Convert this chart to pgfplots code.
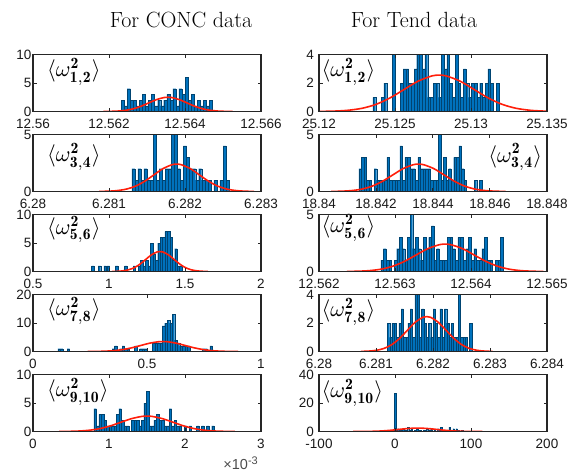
\documentclass[border=0pt]{standalone}
\usepackage{pgfplots}
\pgfplotsset{compat=1.18}
\usepackage{fontspec}
\newfontfamily\tickfam{Liberation Sans}
\definecolor{mlblue}{RGB}{0,114,189}
\definecolor{mlgray}{RGB}{38,38,38}
\definecolor{mlred}{RGB}{255,30,10}
\newcommand\tickfont{\tickfam\fontsize{13.5bp}{16bp}\selectfont}
\newcommand\lab[1]{$\langle\omega^{\mathbf{2}}_{\mathbf{#1}}\rangle$}
\tikzset{wl/.style={inner sep=0pt, scale=2.25, transform shape}}
\pgfplotsset{
  mlax/.style={scale only axis, width=228bp, height=57bp, anchor=south west,
    axis on top, ymin=0, clip=true, clip mode=individual,
    axis line style={draw=mlgray, line width=1.7bp},
    tick style={draw=mlgray, line width=1bp},
    major tick length=3.5bp, tick align=inside,
    ticklabel style={font=\tickfont, text=black!90},
    xticklabel style={inner sep=0pt, anchor=north, yshift=-7.5bp},
    /pgf/number format/assume math mode=true},
  lcol/.style={mlax, yticklabel style={inner sep=0pt, anchor=east, xshift=-1.5bp}},
  rcol/.style={mlax, yticklabel style={inner sep=0pt, anchor=east, xshift=-5bp}},
  hist/.style={ybar, bar shift=0pt, bar width=#1, fill=mlblue, draw=mlblue!60!black, line width=0.25bp},
  fit/.style={mlred, line width=1.6bp, smooth, mark=none},
}
\begin{document}
\begin{tikzpicture}
\useasboundingbox (0,0) rectangle (569bp,-473bp);
\node[anchor=base, font=\fontsize{22bp}{26bp}\selectfont] at (181bp,-27bp) {For CONC data};
\node[anchor=base, font=\fontsize{22bp}{26bp}\selectfont] at (414bp,-27bp) {For Tend data};

% ---------- Left column ----------
\begin{axis}[lcol, at={(33bp,-111.5bp)}, xmin=0, xmax=6, ymax=10,
  xtick={0,2,4,6}, xticklabels={12.56,12.562,12.564,12.566}, ytick={0,5,10}]
\addplot[hist=0.08] coordinates {(2.36,2) (2.44,1) (2.52,4) (2.60,2) (2.68,2) (2.76,1) (2.84,2) (2.92,3) (3.00,1) (3.08,2) (3.16,3) (3.24,1) (3.32,2) (3.40,1) (3.48,2) (3.56,3) (3.64,2) (3.72,4) (3.80,1) (3.88,4) (3.96,3) (4.04,6) (4.12,2) (4.20,3) (4.28,1) (4.36,2) (4.44,1) (4.52,2) (4.60,1) (4.68,2)};
\addplot[fit] coordinates {(1.85,0.008) (2.05,0.028) (2.25,0.085) (2.45,0.222) (2.65,0.495) (2.85,0.938) (3.05,1.516) (3.25,2.088) (3.45,2.451) (3.55,2.5) (3.65,2.451) (3.85,2.088) (4.05,1.516) (4.25,0.938) (4.45,0.495) (4.65,0.222) (4.85,0.085) (5.05,0.028) (5.25,0.008)};
\node[wl, anchor=west] at (rel axis cs:0.06,0.69) {\lab{1,2}};
\end{axis}

\begin{axis}[lcol, at={(33bp,-191.5bp)}, xmin=0, xmax=3, ymax=5,
  xtick={0,1,2,3}, xticklabels={6.28,6.281,6.282,6.283}, ytick={0,5}]
\addplot[hist=0.04] coordinates {(1.32,2) (1.36,1) (1.40,2) (1.44,1) (1.48,2) (1.52,1) (1.56,1) (1.60,5) (1.64,1) (1.68,2) (1.72,1) (1.76,2) (1.80,2) (1.84,5) (1.88,5) (1.92,2) (1.96,1) (2.00,4) (2.04,3) (2.08,2) (2.12,2) (2.16,1) (2.20,2) (2.24,1) (2.28,1) (2.32,1) (2.40,1) (2.48,1) (2.52,4) (2.56,1)};
\addplot[fit] coordinates {(0.87,0.007) (0.99,0.027) (1.11,0.082) (1.23,0.213) (1.35,0.475) (1.47,0.901) (1.59,1.456) (1.71,2.005) (1.83,2.352) (1.89,2.4) (1.95,2.352) (2.07,2.005) (2.19,1.456) (2.31,0.901) (2.43,0.475) (2.55,0.213) (2.67,0.082) (2.79,0.027) (2.91,0.007)};
\node[wl, anchor=west] at (rel axis cs:0.06,0.61) {\lab{3,4}};
\end{axis}

\begin{axis}[lcol, at={(33bp,-271.5bp)}, xmin=0.5, xmax=2, ymax=10,
  xtick={0.5,1,1.5,2}, xticklabels={0.5,1,1.5,2}, ytick={0,5,10}]
\addplot[hist=0.016] coordinates {(0.893,1) (0.937,1) (0.974,1) (0.996,1) (1.050,1) (1.110,1) (1.166,1) (1.200,1) (1.216,2) (1.232,1) (1.248,2) (1.264,1) (1.280,5) (1.296,3) (1.312,2) (1.328,5) (1.344,6) (1.360,6) (1.376,7) (1.392,7) (1.408,6) (1.424,2) (1.440,4) (1.456,1) (1.472,1)};
\addplot[fit] coordinates {(1.019,0.011) (1.056,0.039) (1.093,0.119) (1.130,0.311) (1.168,0.693) (1.205,1.314) (1.242,2.123) (1.279,2.924) (1.316,3.431) (1.335,3.5) (1.354,3.431) (1.391,2.924) (1.428,2.123) (1.465,1.314) (1.502,0.693) (1.540,0.311) (1.577,0.119) (1.614,0.039) (1.651,0.011)};
\node[wl, anchor=west] at (rel axis cs:0.06,0.74) {\lab{5,6}};
\end{axis}

\begin{axis}[lcol, at={(33bp,-351.5bp)}, xmin=0, xmax=1, ymax=20,
  xtick={0,0.5,1}, xticklabels={0,0.5,1}, ytick={0,10,20}]
\addplot[hist=0.011] coordinates {(0.115,1) (0.126,1) (0.155,1) (0.352,1) (0.363,2) (0.385,1) (0.396,2) (0.407,1) (0.418,1) (0.451,2) (0.473,1) (0.484,1) (0.495,1) (0.528,3) (0.539,3) (0.550,3) (0.561,3) (0.572,9) (0.583,10) (0.594,11) (0.605,10) (0.616,13) (0.627,4) (0.638,3) (0.649,2) (0.660,2) (0.671,2) (0.682,2) (0.748,1) (0.759,1) (0.781,2)};
\addplot[fit] coordinates {(0.240,0.011) (0.279,0.039) (0.318,0.119) (0.357,0.311) (0.395,0.693) (0.434,1.314) (0.473,2.123) (0.512,2.924) (0.551,3.431) (0.570,3.5) (0.589,3.431) (0.628,2.924) (0.667,2.123) (0.706,1.314) (0.745,0.693) (0.783,0.311) (0.822,0.119) (0.861,0.039) (0.900,0.011)};
\node[wl, anchor=west] at (rel axis cs:0.06,0.71) {\lab{7,8}};
\end{axis}

\begin{axis}[lcol, at={(33bp,-431.5bp)}, xmin=0, xmax=3, ymax=10,
  xtick={0,1,2,3}, xticklabels={0,1,2,3}, ytick={0,5,10}]
\addplot[hist=0.033] coordinates {(0.816,4) (0.849,1) (0.882,3) (0.915,3) (0.948,2) (0.981,1) (1.014,1) (1.047,1) (1.080,1) (1.113,3) (1.146,4) (1.179,2) (1.212,1) (1.245,1) (1.311,2) (1.344,2) (1.377,2) (1.410,1) (1.443,2) (1.476,5) (1.509,7) (1.542,1) (1.575,1) (1.608,2) (1.641,3) (1.674,2) (1.707,2) (1.740,1) (1.773,1) (1.806,4) (1.839,1) (1.872,2) (1.905,1) (1.938,1) (2.004,1) (2.070,1) (2.169,1) (2.235,1) (2.301,1) (2.367,1)};
\addplot[fit] coordinates {(0.344,0.008) (0.480,0.030) (0.616,0.092) (0.752,0.240) (0.888,0.534) (1.024,1.013) (1.160,1.638) (1.296,2.255) (1.432,2.647) (1.500,2.7) (1.568,2.647) (1.704,2.255) (1.840,1.638) (1.976,1.013) (2.112,0.534) (2.248,0.240) (2.384,0.092) (2.520,0.030) (2.656,0.008)};
\node[wl, anchor=west] at (rel axis cs:0.06,0.69) {\lab{9,10}};
\end{axis}
\node[anchor=base east, inner sep=0pt, font=\tickfam\fontsize{14.5bp}{17bp}\selectfont, text=black!70] at (258bp,-469bp) {×10\raisebox{5bp}{\fontsize{11bp}{13bp}\selectfont -3}};

% ---------- Right column ----------
\begin{axis}[rcol, at={(319bp,-111.5bp)}, xmin=0, xmax=15, ymax=4,
  xtick={0,5,10,15}, xticklabels={25.12,25.125,25.13,25.135}, ytick={0,2,4}]
\addplot[hist=0.18] coordinates {(3.64,1) (4.18,1) (4.36,2) (4.90,4) (5.44,2) (5.62,3) (5.80,3) (5.98,2) (6.16,2) (6.34,3) (6.52,4) (6.70,4) (6.88,3) (7.06,4) (7.24,1) (7.42,1) (7.60,2) (7.78,2) (7.96,1) (8.14,4) (8.32,3) (8.50,4) (8.68,2) (8.86,1) (9.04,4) (9.22,2) (9.40,1) (9.58,3) (9.76,2) (9.94,1) (10.12,2) (10.30,2) (10.48,1) (10.66,2) (10.84,1) (11.02,2) (11.20,3) (11.38,2) (11.74,2)};
\addplot[fit] coordinates {(0.08,0.008) (1.0,0.028) (1.92,0.087) (2.84,0.227) (3.76,0.505) (4.68,0.957) (5.6,1.547) (6.52,2.130) (7.44,2.500) (7.9,2.55) (8.36,2.500) (9.28,2.130) (10.2,1.547) (11.12,0.957) (12.04,0.505) (12.96,0.227) (13.88,0.087) (14.8,0.028) (15.72,0.008)};
\node[wl, anchor=west] at (rel axis cs:0.01,0.69) {\lab{1,2}};
\end{axis}

\begin{axis}[rcol, at={(319bp,-191.5bp)}, xmin=0, xmax=8, ymax=5,
  xtick={0,2,4,6,8}, xticklabels={18.84,18.842,18.844,18.846,18.848}, ytick={0,5}]
\addplot[hist=0.09] coordinates {(1.44,2) (1.53,3) (1.62,3) (1.71,1) (1.80,1) (1.98,2) (2.07,1) (2.16,1) (2.25,1) (2.34,1) (2.43,3) (2.52,1) (2.61,1) (2.70,1) (2.79,1) (2.88,4) (2.97,1) (3.06,3) (3.15,3) (3.24,2) (3.33,2) (3.42,1) (3.51,3) (3.60,2) (3.69,2) (3.78,2) (3.87,2) (3.96,1) (4.05,1) (4.14,1) (4.23,5) (4.32,1) (4.41,3) (4.50,1) (4.59,2) (4.68,1) (4.77,3) (4.86,3) (4.95,4) (5.04,2) (5.13,1) (5.49,1) (5.67,1)};
\addplot[fit] coordinates {(0.43,0.007) (0.79,0.027) (1.15,0.082) (1.51,0.213) (1.87,0.475) (2.23,0.901) (2.59,1.456) (2.95,2.005) (3.31,2.352) (3.49,2.4) (3.67,2.352) (4.03,2.005) (4.39,1.456) (4.75,0.901) (5.11,0.475) (5.47,0.213) (5.83,0.082) (6.19,0.027) (6.55,0.007)};
\node[wl, anchor=east] at (rel axis cs:0.98,0.6) {\lab{3,4}};
\end{axis}

\begin{axis}[rcol, at={(319bp,-271.5bp)}, xmin=0, xmax=3, ymax=5,
  xtick={0,1,2,3}, xticklabels={12.562,12.563,12.564,12.565}, ytick={0,5}]
\addplot[hist=0.035] coordinates {(0.83,1) (0.865,2) (0.90,1) (0.935,1) (1.005,1) (1.04,2) (1.075,3) (1.11,2) (1.145,1) (1.18,3) (1.215,5) (1.25,2) (1.285,3) (1.32,2) (1.355,1) (1.39,3) (1.425,2) (1.46,3) (1.495,4) (1.53,1) (1.565,2) (1.60,1) (1.635,1) (1.67,1) (1.705,3) (1.74,3) (1.775,2) (1.81,1) (1.845,3) (1.88,3) (1.915,1) (1.95,2) (1.985,3) (2.02,1) (2.055,2) (2.09,1) (2.125,1) (2.16,2) (2.195,3) (2.23,1) (2.265,1) (2.335,1) (2.37,1) (2.405,3)};
\addplot[fit] coordinates {(0.368,0.007) (0.52,0.027) (0.672,0.082) (0.824,0.213) (0.976,0.475) (1.128,0.901) (1.28,1.456) (1.432,2.005) (1.584,2.352) (1.66,2.4) (1.736,2.352) (1.888,2.005) (2.04,1.456) (2.192,0.901) (2.344,0.475) (2.496,0.213) (2.648,0.082) (2.80,0.027) (2.952,0.007)};
\node[wl, anchor=west] at (rel axis cs:0.01,0.77) {\lab{5,6}};
\end{axis}

\begin{axis}[rcol, at={(319bp,-351.5bp)}, xmin=0, xmax=4, ymax=4,
  xtick={0,1,2,3,4}, xticklabels={6.28,6.281,6.282,6.283,6.284}, ytick={0,2,4}]
\addplot[hist=0.04] coordinates {(1.22,2) (1.26,1) (1.30,2) (1.34,2) (1.38,1) (1.42,2) (1.46,3) (1.50,1) (1.54,1) (1.58,2) (1.62,3) (1.66,1) (1.70,4) (1.74,4) (1.78,1) (1.82,3) (1.86,2) (1.90,1) (1.94,2) (1.98,1) (2.02,3) (2.06,2) (2.10,1) (2.14,3) (2.18,1) (2.22,3) (2.26,2) (2.30,1) (2.34,2) (2.38,1) (2.42,1) (2.46,4) (2.50,1) (2.54,1) (2.58,1) (2.66,2)};
\addplot[fit] coordinates {(0.734,0.008) (0.87,0.027) (1.006,0.083) (1.142,0.218) (1.278,0.485) (1.414,0.919) (1.55,1.486) (1.686,2.046) (1.822,2.401) (1.89,2.45) (1.958,2.401) (2.094,2.046) (2.23,1.486) (2.366,0.919) (2.502,0.485) (2.638,0.218) (2.774,0.083) (2.91,0.027) (3.046,0.008)};
\node[wl, anchor=west] at (rel axis cs:0.01,0.69) {\lab{7,8}};
\end{axis}

\begin{axis}[rcol, at={(319bp,-431.5bp)}, xmin=-100, xmax=200, ymax=40,
  xtick={-100,0,100,200}, xticklabels={-100,0,100,200}, ytick={0,20,40}]
\addplot[hist=2] coordinates {(0,27) (4,2) (8,1) (11,2) (14,1) (17,3) (20,1) (22,2) (26,1) (29,2) (33,1) (38,1) (42,2) (45,1) (48,2) (52,1) (57,2) (61,3) (65,1) (69,1) (72,3) (77,2) (81,2) (84,1) (88,1)};
\addplot[fit] coordinates {(-55,0.007) (-45,0.027) (-35,0.082) (-25,0.213) (-15,0.475) (-5,0.901) (5,1.456) (15,2.005) (25,2.352) (30,2.4) (35,2.352) (45,2.005) (55,1.456) (65,0.901) (75,0.475) (85,0.213) (95,0.082) (105,0.027) (115,0.007)};
\node[wl, anchor=west] at (rel axis cs:0.01,0.68) {\lab{9,10}};
\end{axis}
\end{tikzpicture}
\end{document}
